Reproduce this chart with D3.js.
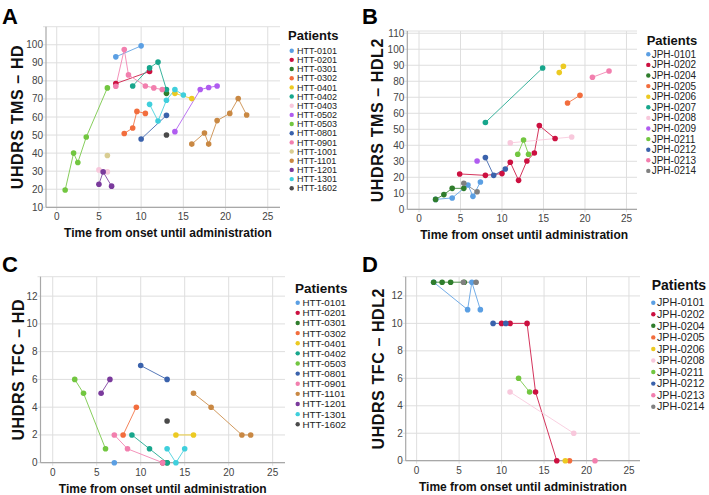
<!DOCTYPE html>
<html>
<head>
<meta charset="utf-8">
<script src="https://cdnjs.cloudflare.com/ajax/libs/d3/7.8.5/d3.min.js"></script>
<style>
body { margin: 0; background: #fff; }
text { font-family: "Liberation Sans", Arial, sans-serif; }
</style>
</head>
<body>
<script>
// patients and their colours
var hdIds = ["HTT-0101", "HTT-0201", "HTT-0301", "HTT-0302", "HTT-0401", "HTT-0402", "HTT-0403", "HTT-0502",
	"HTT-0503", "HTT-0801", "HTT-0901", "HTT-1001", "HTT-1101", "HTT-1201", "HTT-1301", "HTT-1602"];
var hdColors = ["#5b9fe3", "#cc1040", "#2f7d2c", "#f26d3d", "#ecca22", "#17a68c", "#f8c8dc", "#b05cf0",
	"#72c640", "#3a62ac", "#f27fae", "#d9cd92", "#c98843", "#7a3a9c", "#3fcfdc", "#4a4a4a"];
var jphIds = ["JPH-0101", "JPH-0202", "JPH-0204", "JPH-0205", "JPH-0206", "JPH-0207", "JPH-0208", "JPH-0209",
	"JPH-0211", "JPH-0212", "JPH-0213", "JPH-0214"];
var jphColors = ["#5b9fe3", "#cc1040", "#2f7d2c", "#f26d3d", "#ecca22", "#17a68c", "#f8c8dc", "#b05cf0",
	"#72c640", "#3a62ac", "#f27fae", "#808080"];

// [time from onset, score] per patient, same order as the id lists
var tmsHD = [
	[[7, 93.3], [10, 99.4]],
	[[7, 78.5], [11, 85.2]],
	[[13, 73.1]],
	[[8, 50.9], [9, 53.9], [9.5, 63.1], [10.5, 62]],
	[[14, 73.1], [16, 70.2]],
	[[9, 77.2], [11, 87.2], [12, 90.4], [13, 75.2]],
	[[5, 30.7], [6, 29.6]],
	[[14, 51.9], [17, 75.2], [18, 76.3], [19, 77.2]],
	[[1, 19.6], [2, 40], [2.5, 34.8], [3.5, 48.9], [6, 76.1]],
	[[10, 47.8], [13, 60.9]],
	[[7, 77], [8, 97.4], [8.5, 83.3], [10.5, 77.2], [11.5, 76.1], [12.5, 75.2]],
	[[6, 38.7]],
	[[16, 45], [17.5, 51.1], [18, 45], [19, 58], [20.5, 62], [21.5, 70.2], [22.5, 61.1]],
	[[5, 22.8], [5.5, 29.6], [6.5, 21.7]],
	[[11, 67], [12, 57.8], [13, 69.3], [14, 75.2], [15, 72.2]],
	[[13, 50]]
];
var tmsHDL2 = [
	[[2, 6.2], [4, 7.1], [5.9, 15.2], [6.5, 8.1], [7.4, 17.1]],
	[[4.9, 22.1], [8, 21.2], [10, 22.3], [11, 29.4], [12, 18.1], [13, 30.2], [13.9, 35.2], [14.5, 52.3], [16.4, 44.2]],
	[[2, 6.2], [3, 9.2], [4, 13.1], [5.4, 13.1]],
	[[17.9, 66.4], [19.4, 71.2]],
	[[16.9, 85.4], [17.4, 89.4]],
	[[8, 54.2], [14.9, 88.3]],
	[[11, 41.5], [18.4, 45.2]],
	[[7, 30.2]],
	[[11.9, 34.4], [12.6, 43.3], [13.2, 34.4]],
	[[8, 32.3], [9, 21.2], [10.4, 25.2]],
	[[20.9, 82.5], [22.9, 86.4]],
	[[5.4, 16.2], [7, 11]]
];
var tfcHDIds = ["HTT-0101", "HTT-0201", "HTT-0301", "HTT-0302", "HTT-0401", "HTT-0402", "HTT-0503", "HTT-0801",
	"HTT-0901", "HTT-1101", "HTT-1201", "HTT-1301", "HTT-1602"];
var tfcHD = [
	[[7, 0]],
	[[12.5, 0]],
	[[13, 0]],
	[[8, 2], [9.5, 4]],
	[[14, 2], [16, 2]],
	[[9, 2], [11, 1], [13, 0]],
	[[2.5, 6], [3.5, 5], [6, 1]],
	[[10, 7], [13, 6]],
	[[7, 2], [8.5, 1], [12.5, 0]],
	[[16, 5], [18, 4], [21.5, 2], [22.5, 2]],
	[[5.5, 5], [6.5, 6]],
	[[13, 1], [14, 0], [15, 1]],
	[[13, 3]]
];
var tfcHDL2Ids = ["JPH-0101", "JPH-0202", "JPH-0204", "JPH-0205", "JPH-0206", "JPH-0208", "JPH-0211", "JPH-0212",
	"JPH-0213", "JPH-0214"];
var tfcHDL2 = [
	[[2, 13], [6, 11], [6.5, 13], [7.5, 11]],
	[[10, 10], [11, 10], [13, 10], [14, 5], [16.5, 0]],
	[[2, 13], [3, 13], [4, 13], [5.6, 13]],
	[[18, 0]],
	[[17.5, 0]],
	[[11, 5], [18.5, 2]],
	[[12, 6], [13.3, 5]],
	[[9, 10], [10.5, 10]],
	[[21, 0]],
	[[5.5, 13], [7, 13]]
];

var xTicks = [0, 5, 10, 15, 20, 25];
var tmsTicksHD = [10, 20, 30, 40, 50, 60, 70, 80, 90, 100];
var tmsTicksHDL2 = [0, 10, 20, 30, 40, 50, 60, 70, 80, 90, 100, 110];
var tfcTicks = [0, 2, 4, 6, 8, 10, 12];

function colorOf(id) {
	var i = hdIds.indexOf(id);
	if (i >= 0) return hdColors[i];
	return jphColors[jphIds.indexOf(id)];
}

var svg = d3.select("body").append("svg")
	.attr("width", 709)
	.attr("height", 495);

function panel(p) {
	var g = svg.append("g");
	var x = d3.scaleLinear().domain(p.xDomain).range([p.left, p.right]);
	var y = d3.scaleLinear().domain(p.yDomain).range([p.bottom, p.top]);

	// grid
	g.selectAll(".hg").data(p.yTicks).enter().append("line")
		.attr("x1", p.left - 3).attr("x2", p.right)
		.attr("y1", function(d) { return y(d); }).attr("y2", function(d) { return y(d); })
		.attr("stroke", "#dedede").attr("stroke-width", 1);
	g.selectAll(".vg").data(xTicks).enter().append("line")
		.attr("x1", function(d) { return x(d); }).attr("x2", function(d) { return x(d); })
		.attr("y1", p.top).attr("y2", p.bottom + 3)
		.attr("stroke", "#dedede").attr("stroke-width", 1);
	g.append("line").attr("x1", p.left - 3).attr("x2", p.right).attr("y1", p.top).attr("y2", p.top)
		.attr("stroke", "#e0e0e0");
	g.append("line").attr("x1", p.left).attr("x2", p.left).attr("y1", p.top).attr("y2", p.bottom)
		.attr("stroke", "#a8a8a8").attr("stroke-width", 1.2);
	g.append("line").attr("x1", p.left).attr("x2", p.right).attr("y1", p.bottom).attr("y2", p.bottom)
		.attr("stroke", "#a8a8a8").attr("stroke-width", 1.2);

	// tick labels
	g.selectAll(".yl").data(p.yTicks).enter().append("text")
		.attr("x", p.left - 3).attr("y", function(d) { return y(d) + 3.5; })
		.attr("text-anchor", "end").attr("font-size", 10).attr("fill", "#444")
		.text(function(d) { return d; });
	g.selectAll(".xl").data(xTicks).enter().append("text")
		.attr("x", function(d) { return x(d); }).attr("y", p.bottom + 13)
		.attr("text-anchor", "middle").attr("font-size", 10).attr("fill", "#444")
		.text(function(d) { return d; });

	// titles
	g.append("text").attr("x", (p.left + p.right) / 2 + p.xTitleShift).attr("y", p.bottom + 30)
		.attr("text-anchor", "middle").attr("font-size", 12).attr("font-weight", "bold").attr("fill", "#111")
		.text("Time from onset until administration");
	g.append("text")
		.attr("transform", "translate(" + p.yTitleX + "," + (p.top + p.bottom) / 2 + ") rotate(-90)")
		.attr("text-anchor", "middle").attr("font-size", 16).attr("font-weight", "bold").attr("fill", "#111")
		.attr("letter-spacing", 0.6)
		.text(p.yTitle);
	g.append("text").attr("x", p.letterX).attr("y", p.letterY)
		.attr("font-size", 22).attr("font-weight", "bold").attr("fill", "#000")
		.text(p.letter);

	// series
	var line = d3.line().x(function(d) { return x(d[0]); }).y(function(d) { return y(d[1]); });
	var series = p.ids.map(function(id, i) { return { id: id, pts: p.values[i] }; });
	g.selectAll(".ln").data(series).enter().append("path")
		.attr("d", function(d) { return line(d.pts); })
		.attr("fill", "none").attr("stroke-width", 1).attr("stroke-opacity", 0.85)
		.attr("stroke", function(d) { return colorOf(d.id); });
	series.forEach(function(s) {
		g.selectAll(null).data(s.pts).enter().append("circle")
			.attr("cx", function(d) { return x(d[0]); })
			.attr("cy", function(d) { return y(d[1]); })
			.attr("r", 2.8)
			.attr("fill", colorOf(s.id));
	});

	// legend
	g.append("text").attr("x", p.legX).attr("y", p.legY)
		.attr("font-size", p.legTitleSize).attr("font-weight", "bold").attr("fill", "#111")
		.text("Patients");
	var items = g.selectAll(".li").data(p.ids).enter().append("g")
		.attr("transform", function(d, i) { return "translate(0," + (p.legY0 + i * p.legStep) + ")"; });
	items.append("circle").attr("cx", p.legDot).attr("cy", 0).attr("r", 2.2)
		.attr("fill", function(d) { return colorOf(d); });
	items.append("text").attr("x", p.legText).attr("y", 0).attr("dy", "0.35em")
		.attr("font-size", p.legSize).attr("fill", "#222")
		.text(function(d) { return d; });
}

panel({ letter: "A", letterX: 2, letterY: 24, yTitle: "UHDRS TMS \u2013 HD", yTitleX: 23,
	left: 46, right: 280, top: 26.7, bottom: 207.3, xDomain: [-1.27, 26.45], yDomain: [10, 110],
	yTicks: tmsTicksHD, xTitleShift: 5, ids: hdIds, values: tmsHD,
	legX: 288, legY: 40, legTitleSize: 13, legY0: 50.7, legStep: 9.17, legDot: 291.7, legText: 297, legSize: 9 });

panel({ letter: "B", letterX: 362, letterY: 24, yTitle: "UHDRS TMS \u2013 HDL2", yTitleX: 383,
	left: 407.3, right: 637, top: 31, bottom: 209.3, xDomain: [-1.41, 26.27], yDomain: [0, 111.4],
	yTicks: tmsTicksHDL2, xTitleShift: 2, ids: jphIds, values: tmsHDL2,
	legX: 646.7, legY: 45, legTitleSize: 13, legY0: 54.3, legStep: 10.6, legDot: 648.3, legText: 651.7, legSize: 10 });

panel({ letter: "C", letterX: 2, letterY: 272, yTitle: "UHDRS TFC \u2013 HD", yTitleX: 24,
	left: 40.5, right: 285, top: 276.7, bottom: 462.7, xDomain: [-1.39, 26.4], yDomain: [0, 13.4],
	yTicks: tfcTicks, xTitleShift: 0, ids: tfcHDIds, values: tfcHD,
	legX: 295, legY: 293, legTitleSize: 13.5, legY0: 302.7, legStep: 10.13, legDot: 297.7, legText: 302.5, legSize: 9.8 });

panel({ letter: "D", letterX: 362, letterY: 272, yTitle: "UHDRS TFC \u2013 HDL2", yTitleX: 384,
	left: 405.7, right: 640, top: 276.7, bottom: 460.7, xDomain: [-1.29, 26.3], yDomain: [0, 13.4],
	yTicks: tfcTicks, xTitleShift: 0, ids: tfcHDL2Ids, values: tfcHDL2,
	legX: 651.7, legY: 290, legTitleSize: 14, legY0: 302.7, legStep: 11.56, legDot: 653.3, legText: 657, legSize: 10.7 });
</script>
</body>
</html>
